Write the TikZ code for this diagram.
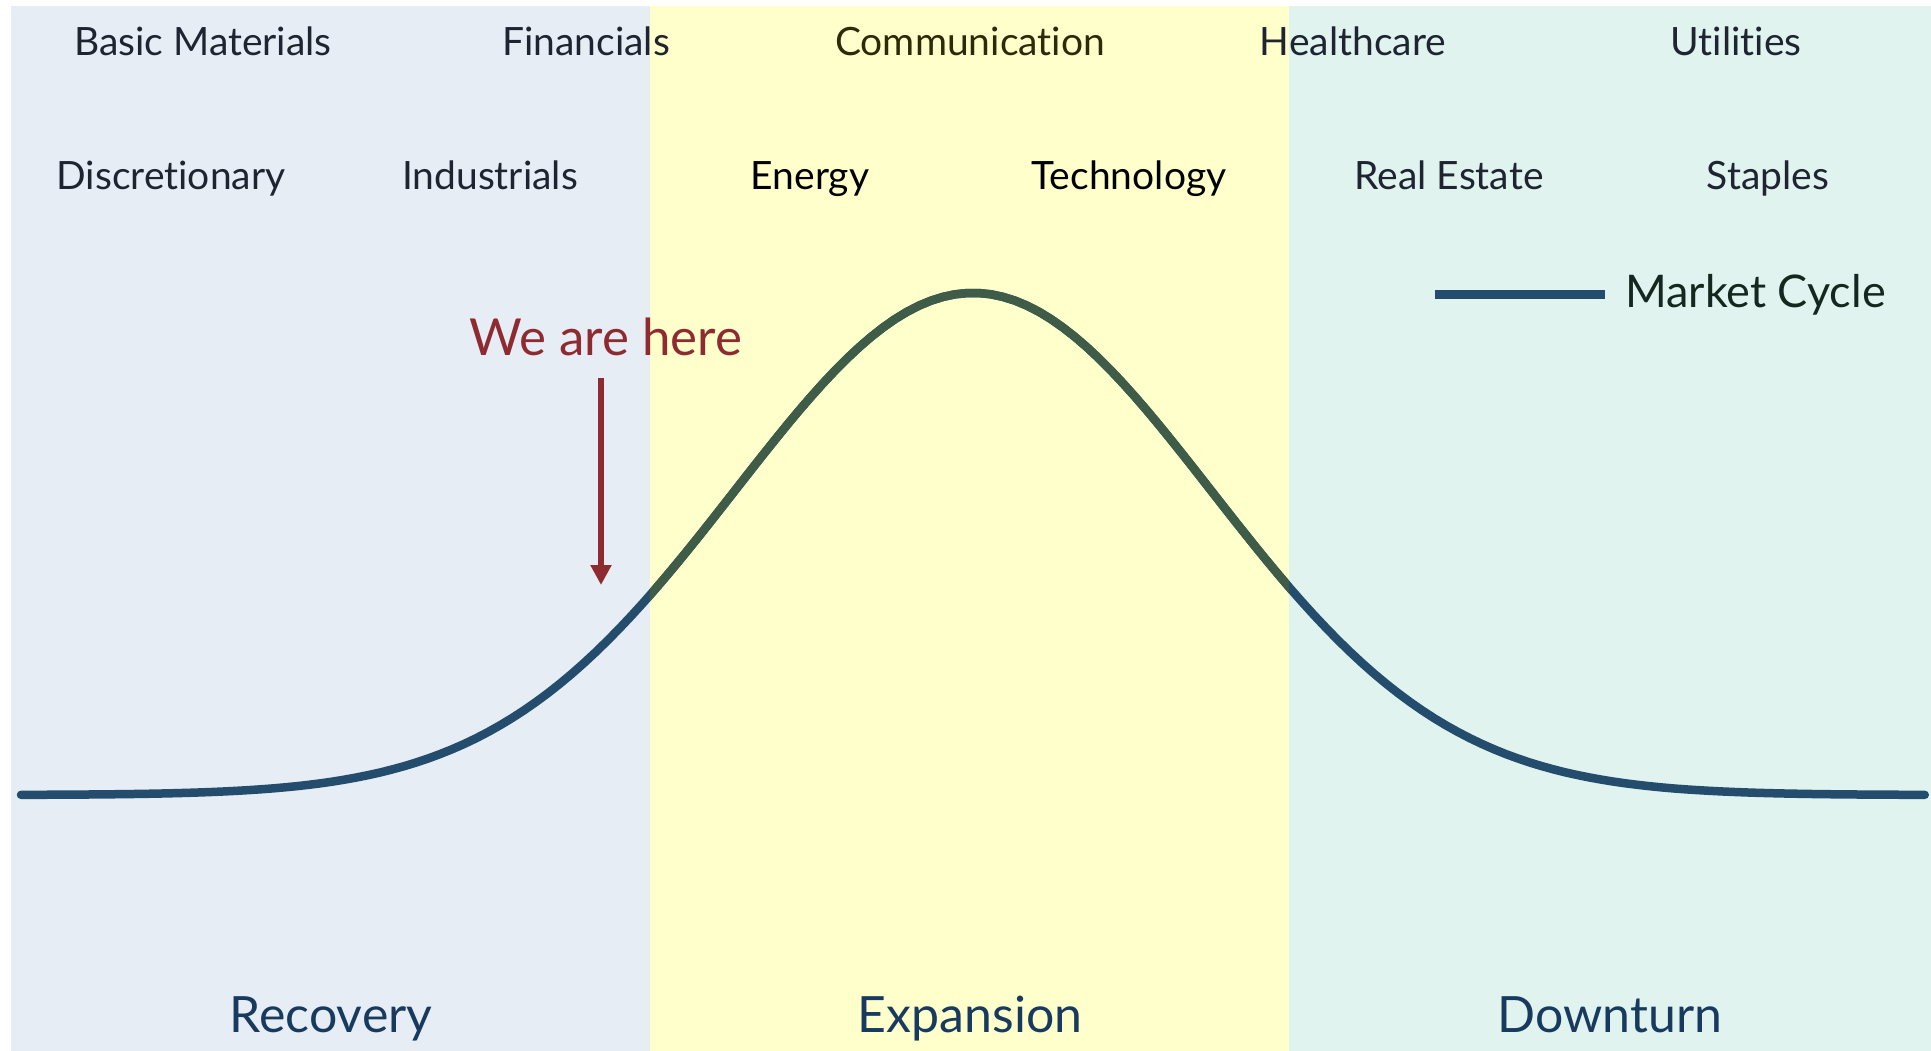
\documentclass[tikz,border=0pt]{standalone}
\usepackage{fontspec}
\setmainfont[Ligatures=NoCommon]{Lato}
\usetikzlibrary{arrows.meta}

\definecolor{recoverybg}{HTML}{E6EDF5}
\definecolor{expansionbg}{HTML}{FFFFCC}
\definecolor{downturnbg}{HTML}{E0F3EF}
\definecolor{cycleblue}{HTML}{244C6C}
\definecolor{cyclegreen}{HTML}{3E5C47}
\definecolor{sectortext}{HTML}{1E2530}
\definecolor{olivetext}{HTML}{2B2B08}
\definecolor{phasetext}{HTML}{173A5E}
\definecolor{herered}{HTML}{8E2B31}
\definecolor{legendtext}{HTML}{16271F}

\begin{document}
\begin{tikzpicture}[x=1pt,y=-1pt,
    sector/.style={anchor=base,inner sep=0pt,text=sectortext,font=\fontsize{39}{45}\selectfont},
    phase/.style={anchor=base,inner sep=0pt,text=phasetext,font=\fontsize{50}{58}\selectfont},
    cycleline/.style={line width=8.5pt,line cap=round,draw=cycleblue}]
    \useasboundingbox (0,0) rectangle (1931,1051);
    % the three phases
    \fill[white] (0,0) rectangle (1931,1051);
    \fill[recoverybg] (11,6) rectangle (650,1051);
    \fill[expansionbg] (650,6) rectangle (1289,1051);
    \fill[downturnbg] (1289,6) rectangle (1931,1051);

    % sectors
    \node[sector] (basic) at (203,56) {Basic Materials};
    \node[sector] (financials) at (586,56) {Financials};
    \node[sector,text=olivetext] (communication) at (970,56) {Communication};
    \node[sector] (healthcare) at (1353,56) {Healthcare};
    \node[sector] (utilities) at (1736,56) {Utilities};
    \node[sector] (discretionary) at (171,190) {Discretionary};
    \node[sector] (industrials) at (490,190) {Industrials};
    \node[sector,text=black] (energy) at (810,190) {Energy};
    \node[sector,text=black] (technology) at (1129,190) {Technology};
    \node[sector] (realestate) at (1449,190) {Real Estate};
    \node[sector] (staples) at (1768,190) {Staples};

    % market cycle
    \draw[cycleline] plot[domain=-4:4,samples=160] ({973+238*\x},{795-502*exp(-0.5*\x*\x)});
    \begin{scope}
    \clip (650,0) rectangle (1289,1051);
    \draw[cycleline,draw=cyclegreen] plot[domain=-4:4,samples=160] ({973+238*\x},{795-502*exp(-0.5*\x*\x)});
    \end{scope}

    % legend
    \coordinate (legstart) at (1435,294);
    \coordinate (legend) at (1605,294);
    \draw[line width=9pt,draw=cycleblue] (legstart) -- (legend);
    \node[anchor=base west,inner sep=0pt,text=legendtext,font=\fontsize{45}{52}\selectfont] (legtext) at (1625,307) {Market Cycle};

    % we are here
    \node[anchor=base,inner sep=0pt,text=herered,font=\fontsize{51}{59}\selectfont] (here) at (606,355) {We are here};
    \coordinate (herestart) at (601,378);
    \coordinate (heretip) at (601,585);
    \draw[line width=6pt,draw=herered,-{Triangle[width=20pt,length=20pt]}] (herestart) -- (heretip);

    % phases
    \node[phase] (recovery) at (331,1032) {Recovery};
    \node[phase] (expansion) at (970,1032) {Expansion};
    \node[phase] (downturn) at (1610,1032) {Downturn};
\end{tikzpicture}
\end{document}
